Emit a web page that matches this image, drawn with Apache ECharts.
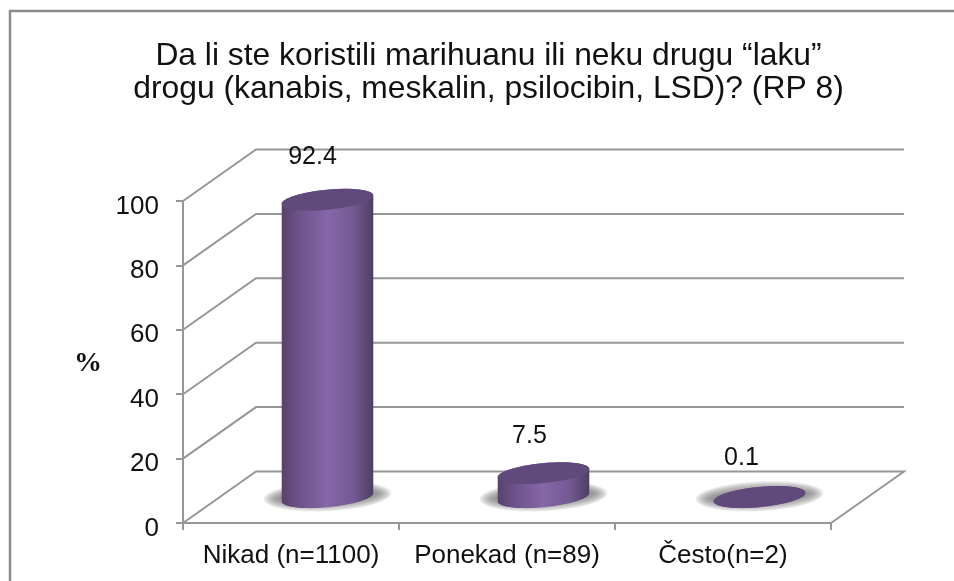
<!DOCTYPE html>
<html><head><meta charset="utf-8">
<style>html,body{margin:0;padding:0;background:#fff}#c{width:954px;height:581px}</style>
<script src="https://cdn.jsdelivr.net/npm/echarts@6/dist/echarts.min.js"></script>
</head><body><div id="c"></div>
<script>
const categories = ['Nikad (n=1100)', 'Ponekad (n=89)', 'Često(n=2)'];
const percentValues = [92.4, 7.5, 0.1];
const axisTicks = [0, 20, 40, 60, 80, 100];
const titleLines = 'Da li ste koristili marihuanu ili neku drugu “laku”\ndrogu (kanabis, meskalin, psilocibin, LSD)? (RP 8)';
const axisUnit = '%';

const DX = 73, DY = -51.5;
const GREY = '#979797';
const labelNudge = [[-15, -43], [-14, -37], [-18, -39]];
const chart = echarts.init(document.getElementById('c'), null, {renderer: 'canvas'});

function ellipsePts(cx, cy, a, b, rot, t0, t1, n) {
  const pts = [];
  for (let i = 0; i <= n; i++) {
    const t = t0 + (t1 - t0) * i / n;
    const x = a * Math.cos(t), y = b * Math.sin(t);
    pts.push([cx + x * Math.cos(rot) - y * Math.sin(rot), cy + x * Math.sin(rot) + y * Math.cos(rot)]);
  }
  return pts;
}

function renderWall(params, api) {
  const v = api.value(0);
  const p0 = api.coord([0, v]);
  const size = api.size([1, 0]);
  const left = p0[0] - size[0] / 2, y = p0[1];
  const right = left + size[0] * categories.length;
  const pts = [[left, y], [left + DX, y + DY], [right + DX, y + DY]];
  if (v === 0) pts.push([right, y]);
  return {type: 'polyline', shape: {points: pts}, style: {fill: 'none', stroke: GREY, lineWidth: 2}, silent: true};
}

function renderCylinder(params, api) {
  const top = api.coord([api.value(0), api.value(1)]);
  const base = api.coord([api.value(0), 0]);
  const cx = base[0] + DX / 2, by = base[1] + DY / 2, ty = top[1] + DY / 2;
  const a = 46, b = 10, rot = -5.5 * Math.PI / 180;
  const lower = ellipsePts(cx, by, a, b, rot, 0, Math.PI, 40);
  const upper = ellipsePts(cx, ty, a, b, rot, Math.PI, 2 * Math.PI, 40);
  const grad = new echarts.graphic.LinearGradient(0, 0, 1, 0, [
    {offset: 0, color: '#57426f'}, {offset: 0.18, color: '#6b5288'},
    {offset: 0.5, color: '#8666a9'}, {offset: 0.78, color: '#735a92'},
    {offset: 1, color: '#4f3d66'}]);
  const nudge = labelNudge[params.dataIndex];
  const soft = [];
  for (let k = 0; k < 10; k++) {
    soft.push({type: 'ellipse', x: cx, y: by - 1, rotation: 0.05,
      shape: {cx: 0, cy: 0, rx: 64 - k * 1.6, ry: 15 - k * 1.0},
      style: {fill: 'rgba(125,125,125,0.13)'}});
  }
  return {type: 'group', children: soft.concat([
    {type: 'polygon', shape: {points: lower.concat(upper)}, style: {fill: grad}},
    {type: 'ellipse', x: cx, y: ty, rotation: -rot,
      shape: {cx: 0, cy: 0, rx: a, ry: b},
      style: {fill: '#604a7b'}},
    {type: 'text', x: cx + nudge[0], y: ty + nudge[1],
      style: {text: String(api.value(1)), fill: '#111', font: '25px "Liberation Sans", Arial, sans-serif', align: 'center', verticalAlign: 'middle'}}
  ])};
}

chart.setOption({
  animation: false,
  backgroundColor: '#fff',
  title: {text: titleLines, left: 483.5, top: 34, textAlign: 'center',
    textStyle: {fontFamily: '"Liberation Sans", Arial, sans-serif', fontSize: 31.8, fontWeight: 'normal', color: '#111', lineHeight: 33.5}},
  grid: {left: 183, right: 123, top: 201, bottom: 58, containLabel: false},
  xAxis: {type: 'category', data: categories,
    axisLine: {lineStyle: {color: GREY, width: 2}},
    axisTick: {show: true, length: 7, alignWithLabel: false, lineStyle: {color: GREY, width: 2}},
    axisLabel: {color: '#111', fontSize: 26, fontFamily: '"Liberation Sans", Arial, sans-serif', margin: 20, interval: 0}},
  yAxis: {type: 'value', min: 0, max: 100, interval: 20,
    name: axisUnit, nameLocation: 'middle', nameRotate: 0, nameGap: 81,
    nameTextStyle: {fontFamily: '"Liberation Serif", serif', fontWeight: 'bold', fontSize: 28, color: '#111', verticalAlign: 'top', lineHeight: 4},
    axisLine: {show: true, lineStyle: {color: GREY, width: 2}},
    axisTick: {show: true, length: 7, lineStyle: {color: GREY, width: 2}},
    axisLabel: {color: '#111', fontSize: 26, fontFamily: '"Liberation Sans", Arial, sans-serif', margin: 24, verticalAlign: 'top', lineHeight: 11},
    splitLine: {show: false}},
  graphic: [{type: 'rect', shape: {x: 10, y: 11, width: 960, height: 600}, style: {fill: 'none', stroke: '#8c8c8c', lineWidth: 2.5}, z: 100, silent: true}],
  series: [
    {type: 'custom', name: 'walls', renderItem: renderWall, data: axisTicks.map(v => [v]), encode: {y: 0}, z: 1, clip: false},
    {type: 'custom', name: '%', renderItem: renderCylinder, data: percentValues.map((v, i) => [i, v]), encode: {x: 0, y: 1}, z: 2, clip: false}
  ]
});
</script></body></html>
